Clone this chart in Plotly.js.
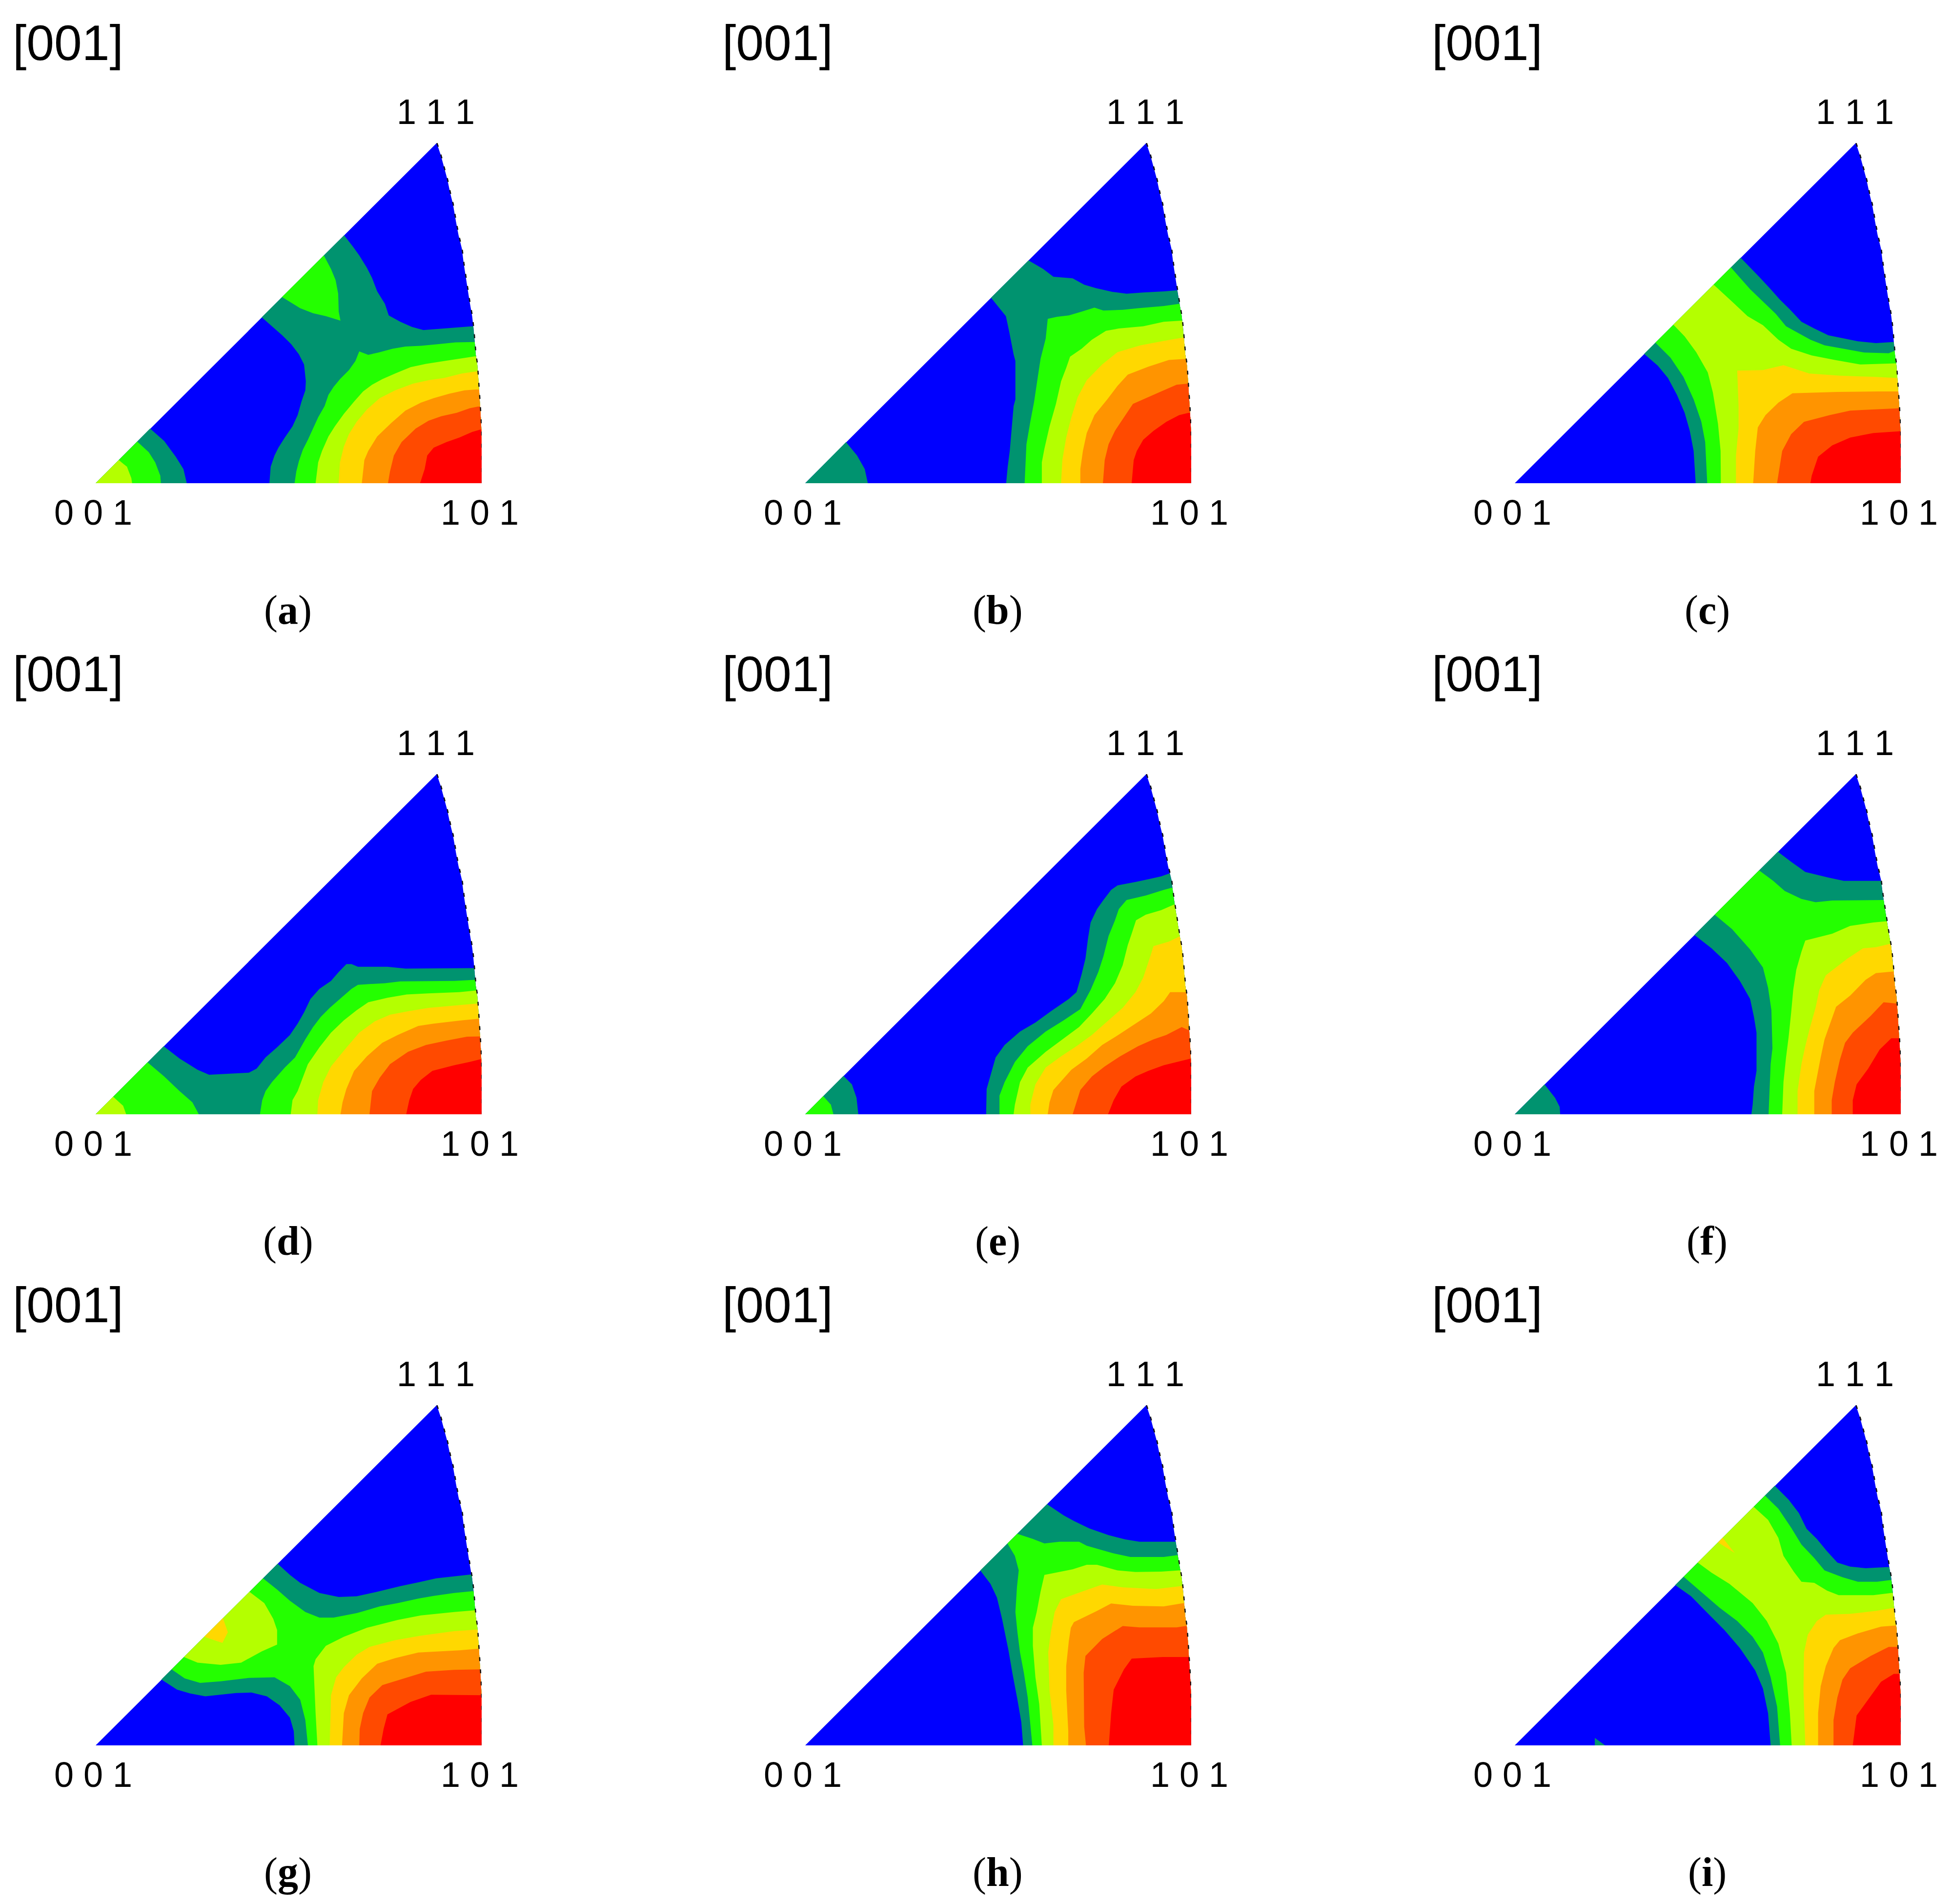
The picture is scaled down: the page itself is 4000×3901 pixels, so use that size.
<!DOCTYPE html>
<html>
<head>
<meta charset="utf-8">
<script src="https://cdn.plot.ly/plotly-3.0.1.min.js"></script>
<style>body{margin:0;background:#fff}</style>
</head>
<body>
<div id="plot" style="width:4000px;height:3901px"></div>
<script>
var levelColors = ["#00936f", "#24ff00", "#b4ff00", "#ffd800", "#ff9400", "#ff4a00", "#ff0000"];

// edge of the triangle, from 111 down to 101
var arc = [[1362,30],[1378,85],[1393,150],[1403,190],[1415,255],[1425,300],[1437,380],[1447,440],[1460,500],[1467,565],[1475,625],[1482,680],[1490,735],[1500,800],[1505,850],[1510,915],[1514,970],[1520,1015],[1524,1075],[1527,1120],[1531,1200],[1534,1260],[1536,1310],[1537,1400],[1538,1543]];
var corner001 = [33,1543];

var a_teal = [[1500,845],[1440,850],[1375,855],[1310,862],[1265,848],[1220,825],[1175,797],[1160,745],[1130,690],[1110,630],[1090,585],[1060,530],[1035,490],[1001,440],[680,805],[720,845],[760,885],[795,925],[825,970],[845,1015],[852,1090],[850,1130],[835,1180],[820,1240],[800,1290],[770,1340],[745,1385],[730,1420],[715,1470],[710,1543]];
var a_teal2 = [[245,1300],[300,1355],[345,1425],[375,1480],[388,1543],[33,1543]];
var a_green = [[1508,915],[1435,917],[1365,925],[1300,932],[1240,935],[1190,945],[1135,962],[1095,972],[1060,957],[1045,1000],[1020,1040],[985,1080],[960,1115],[940,1150],[925,1200],[900,1250],[880,1300],[860,1350],[840,1395],[825,1445],[815,1490],[808,1543]];
var a_green2 = [[195,1358],[240,1405],[265,1450],[285,1510],[287,1543],[33,1543]];
var a_green3 = [[922,530],[950,590],[968,640],[978,700],[980,780],[987,820],[930,800],[880,787],[830,765],[759,715]];
var a_lime = [[1515,978],[1450,990],[1390,1000],[1320,1012],[1260,1027],[1200,1055],[1150,1080],[1110,1105],[1075,1135],[1040,1180],[1000,1235],[965,1290],[940,1335],[915,1400],[900,1450],[890,1543]];
var a_lime2 = [[123,1440],[155,1470],[172,1520],[175,1543],[33,1543]];
var a_yellow = [[1522,1045],[1460,1055],[1390,1075],[1330,1085],[1270,1100],[1200,1130],[1140,1165],[1090,1215],[1050,1270],[1020,1325],[1000,1380],[985,1450],[980,1543]];
var a_orange = [[1528,1125],[1470,1130],[1410,1145],[1350,1165],[1300,1185],[1240,1220],[1185,1275],[1130,1335],[1095,1400],[1080,1440],[1070,1543]];
var a_dorange = [[1532,1200],[1490,1210],[1440,1230],[1380,1245],[1330,1265],[1280,1300],[1225,1360],[1195,1420],[1180,1490],[1172,1543]];
var a_red = [[1536,1303],[1500,1315],[1450,1340],[1400,1360],[1350,1385],[1325,1420],[1315,1480],[1297,1543]];

var b_teal = [[1482,685],[1430,690],[1350,695],[1285,700],[1230,692],[1165,675],[1120,660],[1075,632],[1000,625],[960,590],[903,552],[757,718],[790,765],[815,800],[828,870],[845,970],[852,1000],[852,1170],[845,1200],[838,1300],[830,1400],[822,1470],[816,1543]];
var b_teal2 = [[192,1360],[235,1420],[265,1480],[277,1543],[33,1543]];
var b_green = [[1490,745],[1430,755],[1330,765],[1270,772],[1195,775],[1160,762],[1110,780],[1060,797],[1015,803],[978,812],[970,900],[950,990],[938,1080],[925,1180],[910,1270],[895,1370],[888,1543]];
var b_lime = [[1498,820],[1430,825],[1350,845],[1255,855],[1205,865],[1150,905],[1110,945],[1065,980],[1050,1030],[1030,1090],[1010,1190],[985,1290],[965,1390],[955,1450],[955,1543]];
var b_yellow = [[1507,895],[1430,910],[1340,930],[1250,960],[1190,1015],[1130,1085],[1095,1160],[1070,1250],[1050,1340],[1035,1440],[1030,1543]];
var b_orange = [[1515,990],[1450,995],[1370,1025],[1290,1060],[1250,1110],[1210,1170],[1160,1240],[1130,1320],[1115,1400],[1105,1480],[1105,1543]];
var b_dorange = [[1523,1100],[1480,1105],[1420,1135],[1360,1165],[1310,1190],[1275,1250],[1240,1310],[1215,1370],[1200,1440],[1193,1543]];
var b_red = [[1533,1228],[1490,1240],[1440,1270],[1390,1310],[1350,1350],[1325,1400],[1313,1440],[1305,1543]];

var c_teal = [[1507,915],[1440,920],[1370,912],[1300,895],[1255,885],[1200,855],[1150,825],[1105,770],[1065,725],[1030,680],[985,625],[913,540],[537,968],[590,1020],[630,1075],[665,1150],[695,1230],[715,1310],[730,1400],[738,1543]];
var c_green = [[1512,955],[1490,965],[1395,962],[1310,945],[1240,930],[1185,905],[1130,870],[1090,845],[1050,790],[1000,735],[950,680],[875,583],[581,918],[640,985],[690,1070],[730,1170],[760,1270],[775,1360],[783,1543]];
var c_lime = [[1515,1010],[1380,1015],[1280,995],[1190,975],[1110,945],[1060,905],[1000,840],[940,800],[870,725],[808,660],[651,838],[695,890],[740,960],[785,1050],[805,1140],[825,1280],[835,1400],[836,1543]];
var c_yellow = [[1522,1075],[1430,1070],[1300,1065],[1180,1055],[1080,1018],[1000,1040],[900,1042],[905,1200],[905,1300],[895,1420],[895,1543]];
var c_orange = [[1525,1135],[1450,1135],[1290,1137],[1115,1143],[1060,1185],[1010,1240],[980,1295],[970,1400],[962,1543]];
var c_dorange = [[1530,1210],[1440,1215],[1340,1220],[1260,1240],[1160,1270],[1110,1325],[1075,1400],[1055,1543]];
var c_red = [[1536,1312],[1430,1320],[1340,1340],[1270,1375],[1215,1425],[1190,1510],[1185,1543]];

var d_teal = [[1507,893],[1240,895],[1170,887],[1055,887],[1030,875],[1010,875],[980,910],[950,950],[905,985],[870,1030],[845,1090],[820,1140],[790,1190],[740,1245],[695,1290],[660,1340],[630,1358],[570,1362],[475,1367],[430,1345],[360,1295],[298,1240],[33,1543]];
var d_green = [[1512,945],[1430,950],[1220,952],[1160,960],[1055,967],[1030,985],[990,1025],[945,1070],[910,1110],[880,1155],[850,1210],[830,1250],[810,1290],[770,1335],[720,1400],[695,1440],[682,1480],[673,1543]];
var d_green2 = [[235,1312],[300,1375],[360,1440],[410,1490],[435,1543],[33,1543]];
var d_lime = [[1517,992],[1450,1000],[1330,1005],[1245,1010],[1170,1025],[1095,1045],[1050,1080],[1000,1125],[950,1180],[905,1245],[860,1320],[820,1440],[800,1480],[793,1543]];
var d_lime2 = [[101,1465],[140,1505],[152,1543],[33,1543]];
var d_yellow = [[1522,1050],[1430,1060],[1330,1070],[1250,1085],[1180,1100],[1120,1130],[1060,1180],[1000,1260],[950,1330],[920,1400],[900,1480],[897,1543]];
var d_orange = [[1526,1118],[1460,1125],[1350,1140],[1290,1150],[1210,1190],[1150,1225],[1090,1285],[1040,1350],[1010,1430],[995,1490],[987,1543]];
var d_dorange = [[1530,1197],[1480,1198],[1400,1215],[1320,1235],[1250,1265],[1180,1320],[1140,1380],[1110,1440],[1105,1490],[1100,1543]];
var d_red = [[1536,1297],[1490,1310],[1430,1325],[1345,1350],[1300,1390],[1270,1430],[1255,1480],[1243,1543]];

var e_teal = [[1452,472],[1420,485],[1380,495],[1320,510],[1250,525],[1225,545],[1195,590],[1170,630],[1145,690],[1135,760],[1125,850],[1110,920],[1090,1000],[1060,1030],[990,1085],[930,1135],[870,1175],[810,1235],[775,1290],[755,1370],[740,1430],[738,1543]];
var e_teal2 = [[182,1372],[215,1410],[233,1470],[240,1543],[33,1543]];
var e_green = [[1462,535],[1430,545],[1360,570],[1285,590],[1255,630],[1240,680],[1215,750],[1195,840],[1175,910],[1145,990],[1105,1075],[1040,1125],[970,1175],[900,1240],[850,1310],[810,1400],[790,1460],[790,1543]];
var e_green2 = [[103,1462],[133,1500],[143,1543],[33,1543]];
var e_lime = [[1470,610],[1420,635],[1360,655],[1322,680],[1305,740],[1290,790],[1270,880],[1240,960],[1200,1030],[1150,1095],[1100,1155],[1040,1205],[970,1265],[900,1335],[870,1400],[850,1500],[845,1543]];
var e_yellow = [[1492,752],[1450,775],[1390,795],[1375,850],[1350,935],[1320,1000],[1270,1070],[1210,1130],[1150,1190],[1090,1240],[1030,1285],[970,1335],[930,1410],[910,1500],[910,1543]];
var e_orange = [[1510,1000],[1455,1000],[1430,1040],[1380,1095],[1320,1140],[1260,1185],[1190,1235],[1130,1295],[1070,1345],[1000,1435],[985,1490],[978,1543]];
var e_dorange = [[1525,1168],[1500,1155],[1440,1190],[1390,1210],[1330,1240],[1260,1285],[1200,1330],[1150,1375],[1105,1435],[1090,1490],[1075,1543]];
var e_red = [[1536,1295],[1500,1305],[1430,1325],[1370,1350],[1320,1375],[1265,1420],[1235,1480],[1213,1543]];

var f_teal = [[1455,505],[1380,505],[1315,505],[1255,490],[1165,465],[1110,420],[1058,375],[733,745],[800,805],[860,870],[910,950],[950,1030],[965,1110],[975,1180],[975,1350],[965,1420],[960,1500],[955,1543]];
var f_teal2 = [[149,1410],[190,1470],[208,1510],[210,1543],[33,1543]];
var f_green = [[1465,590],[1270,592],[1205,600],[1150,585],[1085,550],[1040,505],[985,458],[812,655],[880,720],[950,810],[1000,890],[1020,980],[1033,1080],[1037,1250],[1030,1320],[1025,1440],[1022,1543]];
var f_lime = [[1477,685],[1430,690],[1340,705],[1270,740],[1165,770],[1150,820],[1130,900],[1118,990],[1110,1090],[1100,1200],[1090,1290],[1080,1400],[1075,1543]];
var f_yellow = [[1495,785],[1440,800],[1390,805],[1330,850],[1245,925],[1220,990],[1205,1070],[1185,1150],[1165,1240],[1150,1320],[1135,1440],[1135,1543]];
var f_orange = [[1507,908],[1440,915],[1400,945],[1340,1015],[1285,1065],[1265,1130],[1240,1210],[1225,1290],[1210,1380],[1200,1440],[1200,1543]];
var f_dorange = [[1520,1050],[1470,1045],[1420,1105],[1350,1180],[1320,1225],[1300,1300],[1280,1400],[1268,1480],[1268,1543]];
var f_red = [[1530,1205],[1500,1205],[1455,1255],[1410,1340],[1365,1410],[1350,1480],[1350,1543]];

var g_teal = [[1493,783],[1440,790],[1360,800],[1290,818],[1220,835],[1130,860],[1050,880],[980,883],[905,865],[830,820],[790,785],[742,735],[289,1250],[350,1295],[400,1312],[460,1325],[520,1317],[580,1310],[640,1308],[700,1325],[750,1365],[790,1420],[805,1480],[808,1543]];
var g_green = [[1503,857],[1430,865],[1350,878],[1290,890],[1210,910],[1140,925],[1050,955],[960,975],[905,975],[850,950],[790,900],[740,850],[685,800],[329,1205],[380,1245],[440,1265],[520,1258],[630,1243],[730,1240],[790,1280],[830,1340],[850,1430],[860,1543]];
var g_lime = [[1510,942],[1430,950],[1300,965],[1210,985],[1090,1020],[1000,1060],[930,1100],[890,1160],[882,1190],[885,1280],[890,1400],[897,1543]];
var g_lime2 = [[632,860],[690,910],[725,980],[740,1030],[740,1095],[680,1125],[600,1175],[520,1185],[430,1175],[377,1150]];
var g_yellow = [[1520,1028],[1430,1035],[1300,1055],[1200,1075],[1100,1105],[1050,1140],[1000,1195],[970,1240],[950,1320],[945,1543]];
var g_yellow2 = [[529,977],[548,1040],[527,1087],[456,1060]];
var g_orange = [[1524,1113],[1450,1120],[1290,1130],[1200,1155],[1130,1180],[1070,1245],[1020,1320],[1000,1400],[993,1543]];
var g_dorange = [[1530,1205],[1430,1207],[1320,1215],[1220,1250],[1150,1275],[1100,1330],[1075,1400],[1062,1470],[1060,1543]];
var g_red = [[1536,1320],[1340,1318],[1260,1350],[1170,1405],[1155,1470],[1143,1543]];

var h_teal = [[1475,637],[1335,637],[1280,627],[1215,608],[1140,578],[1080,545],[1040,520],[975,470],[715,765],[755,825],[780,885],[800,980],[825,1120],[840,1220],[860,1340],[875,1440],[882,1543]];
var h_green = [[1483,697],[1430,705],[1300,705],[1230,688],[1130,655],[1100,637],[1025,637],[965,645],[920,625],[859,602],[821,645],[850,700],[865,765],[858,840],[852,950],[860,1040],[870,1130],[885,1220],[900,1330],[910,1440],[918,1543]];
var h_lime = [[1490,765],[1420,770],[1320,772],[1250,765],[1170,740],[1130,740],[1075,760],[1010,775],[965,785],[950,860],[935,950],[920,1020],[920,1100],[930,1240],[945,1360],[955,1543]];
var h_yellow = [[1497,835],[1400,848],[1270,840],[1190,828],[1110,860],[1030,893],[1005,950],[990,1040],[980,1130],[985,1300],[1000,1450],[1000,1543]];
var h_orange = [[1507,910],[1430,925],[1310,922],[1225,912],[1170,945],[1080,995],[1068,1020],[1060,1080],[1050,1190],[1050,1300],[1058,1480],[1058,1543]];
var h_dorange = [[1515,1012],[1480,1018],[1335,1018],[1270,1012],[1190,1070],[1125,1145],[1118,1220],[1120,1460],[1127,1543]];
var h_red = [[1530,1148],[1425,1150],[1305,1157],[1275,1205],[1235,1295],[1225,1400],[1216,1543]];

var i_teal = [[1483,750],[1400,755],[1340,748],[1290,730],[1250,680],[1210,625],[1170,580],[1140,510],[1100,450],[1046,388],[658,830],[720,880],[780,950],[850,1030],[910,1110],[970,1210],[1000,1290],[1020,1400],[1030,1543]];
var i_teal2 = [[345,1510],[385,1543],[345,1543]];
var i_green = [[1493,808],[1445,815],[1370,815],[1310,795],[1240,765],[1200,710],[1150,650],[1110,575],[1060,490],[1008,432],[691,793],[760,860],[830,930],[900,990],[960,1060],[1000,1130],[1030,1240],[1055,1370],[1067,1543]];
var i_lime = [[1500,865],[1430,875],[1295,875],[1250,855],[1200,820],[1150,815],[1120,770],[1080,700],[1060,620],[1020,540],[964,482],[746,730],[800,775],[870,825],[960,910],[1015,990],[1060,1090],[1090,1220],[1105,1400],[1112,1543]];
var i_yellow = [[1507,932],[1440,945],[1340,958],[1245,962],[1210,990],[1175,1050],[1160,1130],[1158,1300],[1165,1543]];
var i_yellow2 = [[843,620],[890,687],[825,640]];
var i_orange = [[1515,1010],[1460,1015],[1370,1045],[1300,1075],[1275,1110],[1245,1190],[1225,1280],[1215,1400],[1215,1543]];
var i_dorange = [[1522,1105],[1490,1105],[1420,1145],[1340,1200],[1310,1250],[1290,1330],[1275,1430],[1275,1543]];
var i_red = [[1530,1225],[1510,1225],[1460,1260],[1410,1340],[1365,1410],[1350,1543]];

var panelNames = ["a","b","c","d","e","f","g","h","i"];
var panelLevels = [
    [[a_teal,a_teal2],[a_green,a_green2,a_green3],[a_lime,a_lime2],[a_yellow],[a_orange],[a_dorange],[a_red]],
    [[b_teal,b_teal2],[b_green],[b_lime],[b_yellow],[b_orange],[b_dorange],[b_red]],
    [[c_teal],[c_green],[c_lime],[c_yellow],[c_orange],[c_dorange],[c_red]],
    [[d_teal],[d_green,d_green2],[d_lime,d_lime2],[d_yellow],[d_orange],[d_dorange],[d_red]],
    [[e_teal,e_teal2],[e_green,e_green2],[e_lime],[e_yellow],[e_orange],[e_dorange],[e_red]],
    [[f_teal,f_teal2],[f_green],[f_lime],[f_yellow],[f_orange],[f_dorange],[f_red]],
    [[g_teal],[g_green],[g_lime,g_lime2],[g_yellow,g_yellow2],[g_orange],[g_dorange],[g_red]],
    [[h_teal],[h_green],[h_lime],[h_yellow],[h_orange],[h_dorange],[h_red]],
    [[i_teal,i_teal2],[i_green],[i_lime],[i_yellow,i_yellow2],[i_orange],[i_dorange],[i_red]]
];

// x of the right edge at height y
function arcXAt(y) {
    for (var k = 1; k < arc.length; k++) {
        if (arc[k][1] >= y) {
            var t = (y - arc[k - 1][1]) / (arc[k][1] - arc[k - 1][1]);
            return arc[k - 1][0] + t * (arc[k][0] - arc[k - 1][0]);
        }
    }
    return arc[arc.length - 1][0];
}

// outlines that start on the right edge get closed along it
function closeOnArc(pts) {
    if (pts[0][0] < 1400) return pts;
    var out = pts.slice();
    for (var k = arc.length - 1; k >= 0; k--) {
        if (arc[k][1] > pts[0][1]) out.push(arc[k]);
    }
    out.push([arcXAt(pts[0][1]), pts[0][1]]);
    return out;
}

function fillTrace(pts, color, xa, ya) {
    return {
        x: pts.map(function (p) { return p[0]; }),
        y: pts.map(function (p) { return p[1]; }),
        xaxis: xa, yaxis: ya,
        type: "scatter", mode: "lines", fill: "toself", fillcolor: color,
        line: {width: 0}, hoverinfo: "skip", cliponaxis: false
    };
}

function lineTrace(xs, ys, width, dash, xa, ya) {
    return {
        x: xs, y: ys, xaxis: xa, yaxis: ya,
        type: "scatter", mode: "lines",
        line: {color: "#111", width: width, dash: dash},
        hoverinfo: "skip", cliponaxis: false
    };
}

var traces = [];
var layout = {
    width: 4000, height: 3901,
    margin: {l: 0, r: 0, t: 0, b: 0},
    paper_bgcolor: "#fff", plot_bgcolor: "rgba(0,0,0,0)",
    showlegend: false, hovermode: false,
    annotations: []
};

function addLabel(text, px, py, size, family) {
    layout.annotations.push({
        text: text, xref: "paper", yref: "paper",
        x: px / 4000, y: 1 - py / 3901, xanchor: "center", yanchor: "middle",
        showarrow: false, font: {family: family, size: size, color: "#000"}
    });
}

panelNames.forEach(function (name, n) {
    var col = n % 3, row = Math.floor(n / 3);
    var dx = col * 1454, dy = row * 1293;
    var suffix = n === 0 ? "" : String(n + 1);
    var xa = "x" + suffix, ya = "y" + suffix;

    layout["xaxis" + suffix] = {
        domain: [(196 + dx) / 4000, (987 + dx) / 4000],
        range: [33, 1537], visible: false, fixedrange: true, anchor: ya
    };
    layout["yaxis" + suffix] = {
        domain: [1 - (990 + dy) / 3901, 1 - (293 + dy) / 3901],
        range: [1543, 30], visible: false, fixedrange: true, anchor: xa
    };

    // blue background first, the levels get painted over it
    traces.push(fillTrace([corner001].concat(arc), "#0000ff", xa, ya));
    panelLevels[n].forEach(function (regions, lev) {
        regions.forEach(function (pts) {
            traces.push(fillTrace(closeOnArc(pts), levelColors[lev], xa, ya));
        });
    });

    traces.push(lineTrace(arc.map(function (p) { return p[0] + 1; }), arc.map(function (p) { return p[1]; }), 2.5, "8px,17px", xa, ya));
    traces.push(lineTrace([33, 1541], [1547, 1547], 3.5, "solid", xa, ya));
    traces.push(lineTrace([1541, 1541], [1475, 1547], 2.5, "solid", xa, ya));

    addLabel("[001]", 139 + dx, 88 + dy, 102, "Liberation Sans");
    addLabel("1 1 1", 893 + dx, 229 + dy, 72, "Liberation Sans");
    addLabel("0 0 1", 191 + dx, 1050 + dy, 72, "Liberation Sans");
    addLabel("1 0 1", 983 + dx, 1050 + dy, 72, "Liberation Sans");
    addLabel("(<b>" + name + "</b>)", 590 + dx, 1250 + dy, 84, "Liberation Serif");
});

Plotly.newPlot("plot", traces, layout, {staticPlot: true});
</script>
</body>
</html>
